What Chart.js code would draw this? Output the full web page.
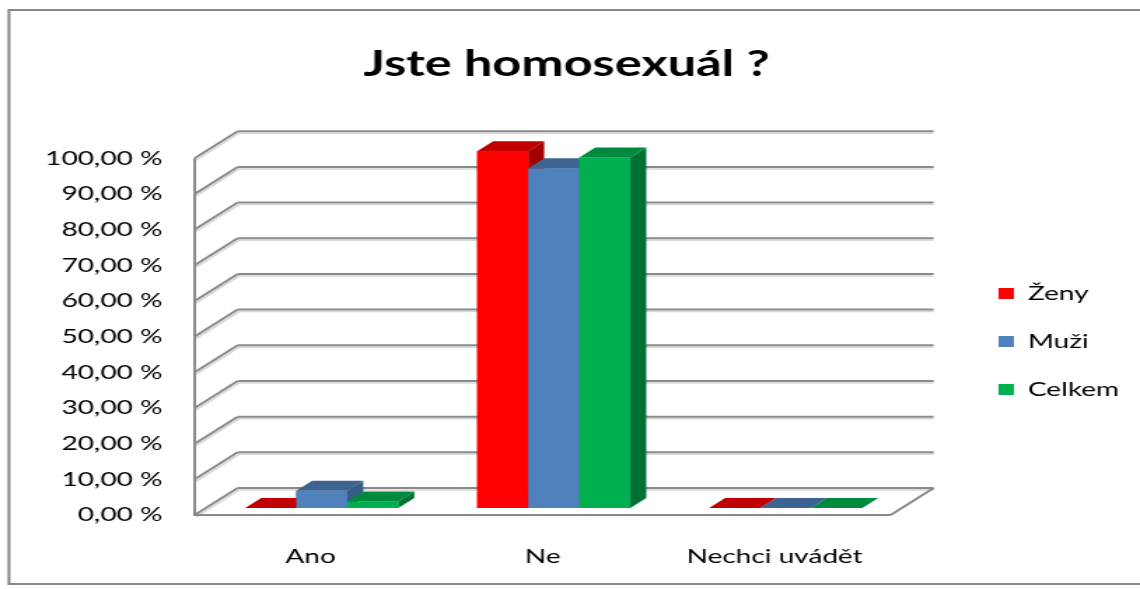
<!DOCTYPE html>
<html>
<head>
<meta charset="utf-8">
<script src="https://cdn.jsdelivr.net/npm/chart.js@4.4.1/dist/chart.umd.min.js"></script>
<style>
  html, body { margin: 0; padding: 0; background: #fff; }
</style>
</head>
<body>
<!-- puvodni obrazek je roztazeny do sirky, proto canvas 814 -> 1140 -->
<canvas id="graf" width="814" height="589" style="display:block;width:1140px;height:589px"></canvas>
<script>
// Data
var kategorie = ['Ano', 'Ne', 'Nechci uvádět'];
var zeny = [0, 100, 0];
var muzi = [4.8, 95.2, 0];
var celkem = [1.8, 98.2, 0];
var popiskyOsy = ['0,00 %', '10,00 %', '20,00 %', '30,00 %', '40,00 %', '50,00 %',
                  '60,00 %', '70,00 %', '80,00 %', '90,00 %', '100,00 %'];

// Barvy: celo, vrch, bok
var barvy = [
    ['#FF0000', '#C00000', '#A20000'],
    ['#4F81BD', '#3D6391', '#385B88'],
    ['#00B050', '#008A3E', '#007033']
];

// Posuny pro 3D efekt (v souradnicich canvasu)
var zadniX = 30.7, zadniY = -27;   // zadni stena
var sloupX = 7.9, sloupY = -7;     // rovina sloupcu
var hloubX = 11.4, hloubY = -10;   // hloubka sloupce

var pismo = 'Lato, "Open Sans", sans-serif';

function cara(ctx, x1, y1, x2, y2) {
    ctx.beginPath();
    ctx.moveTo(x1, y1);
    ctx.lineTo(x2, y2);
    ctx.stroke();
}

function mnohouhelnik(ctx, body, barva) {
    ctx.beginPath();
    ctx.moveTo(body[0][0], body[0][1]);
    for (var i = 1; i < body.length; i++) ctx.lineTo(body[i][0], body[i][1]);
    ctx.closePath();
    ctx.fillStyle = barva;
    ctx.fill();
}

var plugin3D = {
    id: 'plugin3D',
    beforeDraw: function(chart) {
        var ctx = chart.ctx;
        ctx.save();
        ctx.fillStyle = '#fff';
        ctx.fillRect(0, 0, chart.width, chart.height);
        ctx.strokeStyle = '#878787';
        ctx.lineWidth = 2;
        ctx.strokeRect(6.4, 10, chart.width + 10, 574);
        ctx.restore();
    },
    beforeDatasetsDraw: function(chart) {
        var ctx = chart.ctx;
        var ca = chart.chartArea;
        var osaY = chart.scales.y;
        ctx.save();
        ctx.lineCap = 'butt';
        // svetly stin pod carami
        ctx.strokeStyle = '#d6d6d6';
        ctx.lineWidth = 1.5;
        osaY.ticks.forEach(function(t) {
            var py = osaY.getPixelForValue(t.value);
            cara(ctx, ca.left + 1, py + 2, ca.left + zadniX + 1, py + zadniY + 2);
            cara(ctx, ca.left + zadniX, py + zadniY + 2, ca.right + zadniX, py + zadniY + 2);
        });
        ctx.strokeStyle = '#8a8a8a';
        ctx.lineWidth = 2;
        osaY.ticks.forEach(function(t) {
            var py = osaY.getPixelForValue(t.value);
            cara(ctx, ca.left, py, ca.left + zadniX, py + zadniY);
            cara(ctx, ca.left + zadniX, py + zadniY, ca.right + zadniX, py + zadniY);
        });
        // leva hrana a podlaha
        cara(ctx, ca.left, ca.top, ca.left, ca.bottom + 1);
        cara(ctx, ca.left, ca.bottom, ca.right, ca.bottom);
        cara(ctx, ca.right, ca.bottom, ca.right + zadniX, ca.bottom + zadniY);
        ctx.restore();

        // sloupce jsou posunute dozadu
        ctx.save();
        ctx.translate(sloupX, sloupY);
    },
    afterDatasetsDraw: function(chart) {
        var ctx = chart.ctx;
        for (var i = 0; i < kategorie.length; i++) {
            for (var d = 0; d < chart.data.datasets.length; d++) {
                var el = chart.getDatasetMeta(d).data[i];
                var L = el.x - el.width / 2;
                var R = el.x + el.width / 2;
                var T = el.y;
                var B = el.base;
                var c = barvy[d];
                // bok
                mnohouhelnik(ctx, [[R, T], [R + hloubX, T + hloubY], [R + hloubX, B + hloubY], [R, B]], c[2]);
                // vrch
                mnohouhelnik(ctx, [[L, T], [L + hloubX, T + hloubY], [R + hloubX, T + hloubY], [R, T]], c[1]);
                // celo
                ctx.fillStyle = c[0];
                ctx.fillRect(L, T, R - L, B - T);
            }
        }
        ctx.restore();
    }
};

var canvas = document.getElementById('graf');

var meuGraf = new Chart(canvas.getContext('2d'), {
    type: 'bar',
    data: {
        labels: kategorie,
        datasets: [
            { label: 'Ženy', data: zeny, backgroundColor: barvy[0][0] },
            { label: 'Muži', data: muzi, backgroundColor: barvy[1][0] },
            { label: 'Celkem', data: celkem, backgroundColor: barvy[2][0] }
        ]
    },
    options: {
        responsive: false,
        animation: false,
        events: [],
        layout: { padding: { left: 0, right: 5, top: 0, bottom: 0 } },
        datasets: {
            bar: { categoryPercentage: 0.66, barPercentage: 1, borderWidth: 0, clip: false }
        },
        plugins: {
            title: {
                display: true,
                text: 'Jste homosexuál ?',
                color: '#000',
                font: { family: pismo, size: 36, weight: 'bold' },
                padding: { top: 43, bottom: 72 }
            },
            legend: {
                position: 'right',
                // prazdny titulek jen posouva polozky legendy dolu
                title: {
                    display: true,
                    text: ' ',
                    font: { family: pismo, size: 20 },
                    padding: { top: 70, bottom: 0 }
                },
                labels: {
                    color: '#000',
                    font: { family: pismo, size: 20 },
                    boxWidth: 11,
                    boxHeight: 11,
                    padding: 28
                }
            },
            tooltip: { enabled: false }
        },
        scales: {
            x: {
                grid: { display: false },
                border: { display: false },
                ticks: { color: '#000', font: { family: pismo, size: 20 }, padding: 22, maxRotation: 0 },
                afterFit: function(s) { s.height = 74; }
            },
            y: {
                min: 0,
                max: 100,
                grid: { display: false, drawTicks: false },
                border: { display: false },
                ticks: {
                    stepSize: 10,
                    color: '#000',
                    font: { family: pismo, size: 20 },
                    padding: 23,
                    callback: function(value, index) { return popiskyOsy[index]; }
                },
                afterFit: function(s) { s.width = 139; }
            },
            mezera: {
                position: 'right',
                display: true,
                grid: { display: false },
                border: { display: false },
                ticks: { display: false },
                afterFit: function(s) { s.width = 49; }
            }
        }
    },
    plugins: [plugin3D]
});
</script>
</body>
</html>
